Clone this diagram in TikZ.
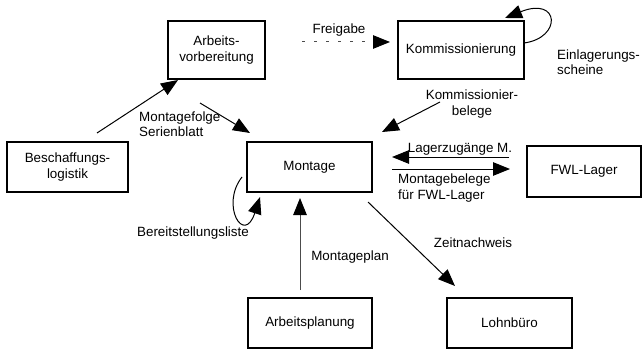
\documentclass[tikz,border=0pt]{standalone}
\usepackage{fontspec}
\setmainfont{Liberation Sans}
\usetikzlibrary{arrows.meta}
\begin{document}
\begin{tikzpicture}[x=1pt,y=-1pt,
  every node/.style={font=\fontsize{13.4}{15.5}\selectfont},
  box/.style={draw,line width=1.1pt,inner sep=0pt,align=center},
  lbl/.style={inner sep=0pt,align=center},
  lbll/.style={inner sep=0pt,align=left},
  conn/.style={line width=1pt,-{Triangle[length=17pt,width=13.5pt,color=black]}},
  dconn/.style={conn,draw=black!70,dash pattern=on 3pt off 9pt}]
\useasboundingbox (0,0) rectangle (644,350);

% process boxes
\node[box,minimum width=97pt,minimum height=58pt] (av) at (216.5,50) {Arbeits-\\vorbereitung};
\node[box,minimum width=126pt,minimum height=58pt] (ko) at (461,50) {Kommissionierung};
\node[box,minimum width=121pt,minimum height=50pt] (be) at (67.5,167) {Beschaffungs-\\logistik};
\node[box,minimum width=125pt,minimum height=50pt] (mo) at (309.5,167) {Montage};
\node[box,minimum width=114pt,minimum height=51pt] (fw) at (584,171.5) {FWL-Lager};
\node[box,minimum width=124pt,minimum height=50pt] (ap) at (310,323) {Arbeitsplanung};
\node[box,minimum width=125pt,minimum height=50pt] (lb) at (509.5,323) {Lohnbüro};

% connector end points
\coordinate (fr1) at (302,42);   \coordinate (fr2) at (390,42);
\coordinate (be1) at (97,133);   \coordinate (av1) at (178,80);
\coordinate (av2) at (200,103);  \coordinate (mo1) at (250,133);
\coordinate (ko1) at (440,102);  \coordinate (mo2) at (382,132);
\coordinate (fw1) at (509,157);  \coordinate (mo3) at (392,157);
\coordinate (mo4) at (392,169);  \coordinate (fw2) at (510,169);
\coordinate (ap1) at (300,290);  \coordinate (mo5) at (300,198);
\coordinate (mo6) at (368,202);  \coordinate (lb1) at (455,286);
\coordinate (ko2) at (524,43);   \coordinate (ko3) at (505,18);
\coordinate (mo7) at (242,177);  \coordinate (mo8) at (260,197);

% connectors
\draw[dconn] (fr1) -- (fr2);
\draw[conn] (be1) -- (av1);
\draw[conn] (av2) -- (mo1);
\draw[conn] (ko1) -- (mo2);
\draw[conn] (fw1) -- (mo3);
\draw[conn] (mo4) -- (fw2);
\draw[conn,draw=black!70] (ap1) -- (mo5);
\draw[conn] (mo6) -- (lb1);
\draw[conn] (ko2) .. controls (562,38) and (560,-4) .. (ko3);
\draw[conn] (mo7) .. controls (220,205) and (244,246) .. (mo8);

% labels
\node[lbl] (t1) at (339,30) {Freigabe};
\node[lbll,anchor=west] (t2) at (557,62) {Einlagerungs-\\scheine};
\node[lbl] (t3) at (472,104) {Kommissionier-\\belege};
\node[lbll,anchor=west] (t4) at (139,124) {Montagefolge\\Serienblatt};
\node[lbl] (t5) at (193,233) {Bereitstellungsliste};
\node[lbl] (t6) at (460,149) {Lagerzugänge M.};
\node[lbll,anchor=west] (t7) at (398,188) {Montagebelege\\für FWL-Lager};
\node[lbl] (t8) at (350,257) {Montageplan};
\node[lbl] (t9) at (473,243) {Zeitnachweis};
\end{tikzpicture}
\end{document}
